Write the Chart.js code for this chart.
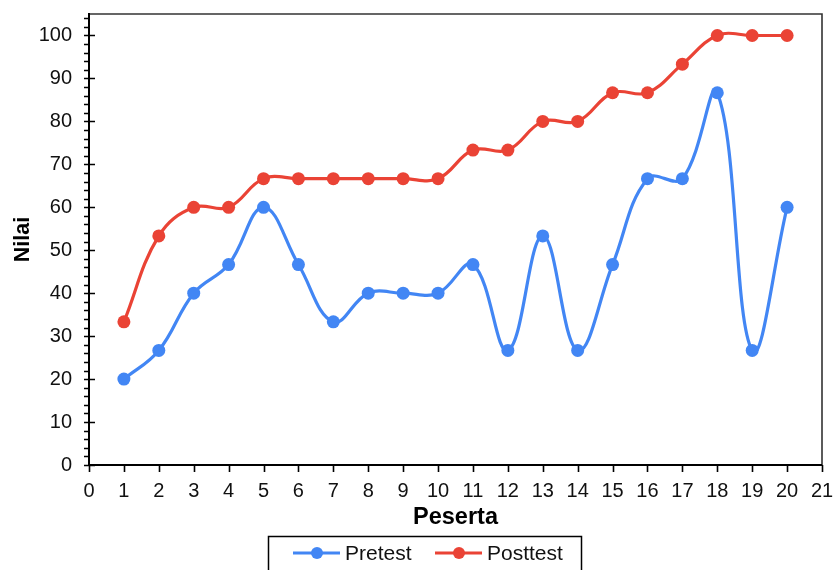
<!DOCTYPE html>
<html>
<head>
<meta charset="utf-8">
<script src="https://cdn.jsdelivr.net/npm/chart.js@4"></script>
<style>
html,body{margin:0;padding:0;background:#fff;}
#wrap{width:834px;height:570px;position:relative;}
</style>
</head>
<body>
<div id="wrap"><canvas id="c" width="834" height="570"></canvas></div>
<script>
const peserta = [1,2,3,4,5,6,7,8,9,10,11,12,13,14,15,16,17,18,19,20];
const pretest = [20,26.67,40,46.67,60,46.67,33.33,40,40,40,46.67,26.67,53.33,26.67,46.67,66.67,66.67,86.67,26.67,60];
const posttest = [33.33,53.33,60,60,66.67,66.67,66.67,66.67,66.67,66.67,73.33,73.33,80,80,86.67,86.67,93.33,100,100,100];
const yTicks = [0,10,20,30,40,50,60,70,80,90,100];
const xTicks = [0,1,2,3,4,5,6,7,8,9,10,11,12,13,14,15,16,17,18,19,20,21];
const seriesNames = ['Pretest','Posttest'];
const colors = ['#4286f4','#ea4335'];

const FONT = "'Liberation Sans', Arial, sans-serif";

const tickPlugin = {
  id: 'ticksAndFrame',
  afterDraw(chart) {
    const ctx = chart.ctx;
    const a = chart.chartArea;
    const ys = chart.scales.y, xs = chart.scales.x;
    ctx.save();
    ctx.strokeStyle = '#333';
    ctx.lineWidth = 1.6;
    ctx.beginPath();
    ctx.moveTo(a.left, a.top); ctx.lineTo(a.right, a.top); ctx.lineTo(a.right, a.bottom);
    ctx.stroke();
    ctx.strokeStyle = '#000';
    ctx.lineWidth = 2;
    ctx.beginPath();
    ctx.moveTo(a.left, a.top - 1); ctx.lineTo(a.left, a.bottom); ctx.lineTo(a.right, a.bottom);
    ctx.stroke();
    ctx.lineWidth = 1.6;
    ctx.beginPath();
    for (let v = 0; v <= 104; v += 2) {
      const py = Math.round(ys.getPixelForValue(v)) + 0.5;
      if (v % 10 === 0) { ctx.moveTo(a.left - 5, py); ctx.lineTo(a.left + 6, py); }
      else { ctx.moveTo(a.left - 5, py); ctx.lineTo(a.left, py); }
    }
    xTicks.forEach(v => {
      const px = Math.round(xs.getPixelForValue(v)) + 0.5;
      ctx.moveTo(px, a.bottom); ctx.lineTo(px, a.bottom + 7);
    });
    ctx.stroke();
    // legend
    ctx.strokeStyle = '#000';
    ctx.lineWidth = 1.5;
    ctx.strokeRect(268.5, 536.5, 313, 40);
    const items = [{x: 293}, {x: 435}];
    ctx.font = '21px ' + FONT;
    ctx.textBaseline = 'middle';
    ctx.textAlign = 'left';
    items.forEach((it, i) => {
      const cy = 553;
      ctx.strokeStyle = colors[i];
      ctx.lineWidth = 3;
      ctx.beginPath(); ctx.moveTo(it.x, cy); ctx.lineTo(it.x + 47, cy); ctx.stroke();
      ctx.fillStyle = colors[i];
      ctx.beginPath(); ctx.arc(it.x + 24, cy, 6, 0, Math.PI * 2); ctx.fill();
      ctx.fillStyle = '#111';
      ctx.fillText(seriesNames[i], it.x + 52, cy + 1);
    });
    ctx.restore();
  }
};

const mk = (vals) => peserta.map((p, i) => ({x: p, y: vals[i]}));

new Chart(document.getElementById('c'), {
  type: 'line',
  data: {
    datasets: [
      {label: seriesNames[0], data: mk(pretest), borderColor: colors[0], backgroundColor: colors[0],
       borderWidth: 3.2, pointRadius: 6.5, pointHoverRadius: 6.5, pointBorderWidth: 0, tension: 0.4},
      {label: seriesNames[1], data: mk(posttest), borderColor: colors[1], backgroundColor: colors[1],
       borderWidth: 3.2, pointRadius: 6.5, pointHoverRadius: 6.5, pointBorderWidth: 0, tension: 0.4}
    ]
  },
  options: {
    responsive: false,
    animation: false,
    events: [],
    layout: {padding: {left: 0, right: 12, top: 14, bottom: 35}},
    plugins: {legend: {display: false}, tooltip: {enabled: false}},
    scales: {
      x: {
        type: 'linear', min: 0, max: 21,
        afterBuildTicks: (s) => { s.ticks = xTicks.map(v => ({value: v})); },
        afterFit: (s) => { s.height = 70; s.paddingLeft = 0; s.paddingRight = 0; },
        grid: {display: false, drawTicks: false},
        border: {display: false},
        ticks: {font: {size: 20, family: FONT}, color: '#111', padding: 14, maxRotation: 0, autoSkip: false},
        title: {display: true, text: 'Peserta', color: '#000', font: {size: 23.5, weight: 'bold', family: FONT}, padding: {top: 0, bottom: 3}}
      },
      y: {
        type: 'linear', min: 0, max: 105,
        afterBuildTicks: (s) => { s.ticks = yTicks.map(v => ({value: v})); },
        afterFit: (s) => { s.width = 89; s.paddingTop = 0; s.paddingBottom = 0; },
        grid: {display: false, drawTicks: false},
        border: {display: false},
        ticks: {font: {size: 20, family: FONT}, color: '#111', padding: 17, autoSkip: false},
        title: {display: true, text: 'Nilai', color: '#000', font: {size: 21.5, weight: 'bold', family: FONT}, padding: {top: 10, bottom: 0}}
      }
    }
  },
  plugins: [tickPlugin]
});
</script>
</body>
</html>
